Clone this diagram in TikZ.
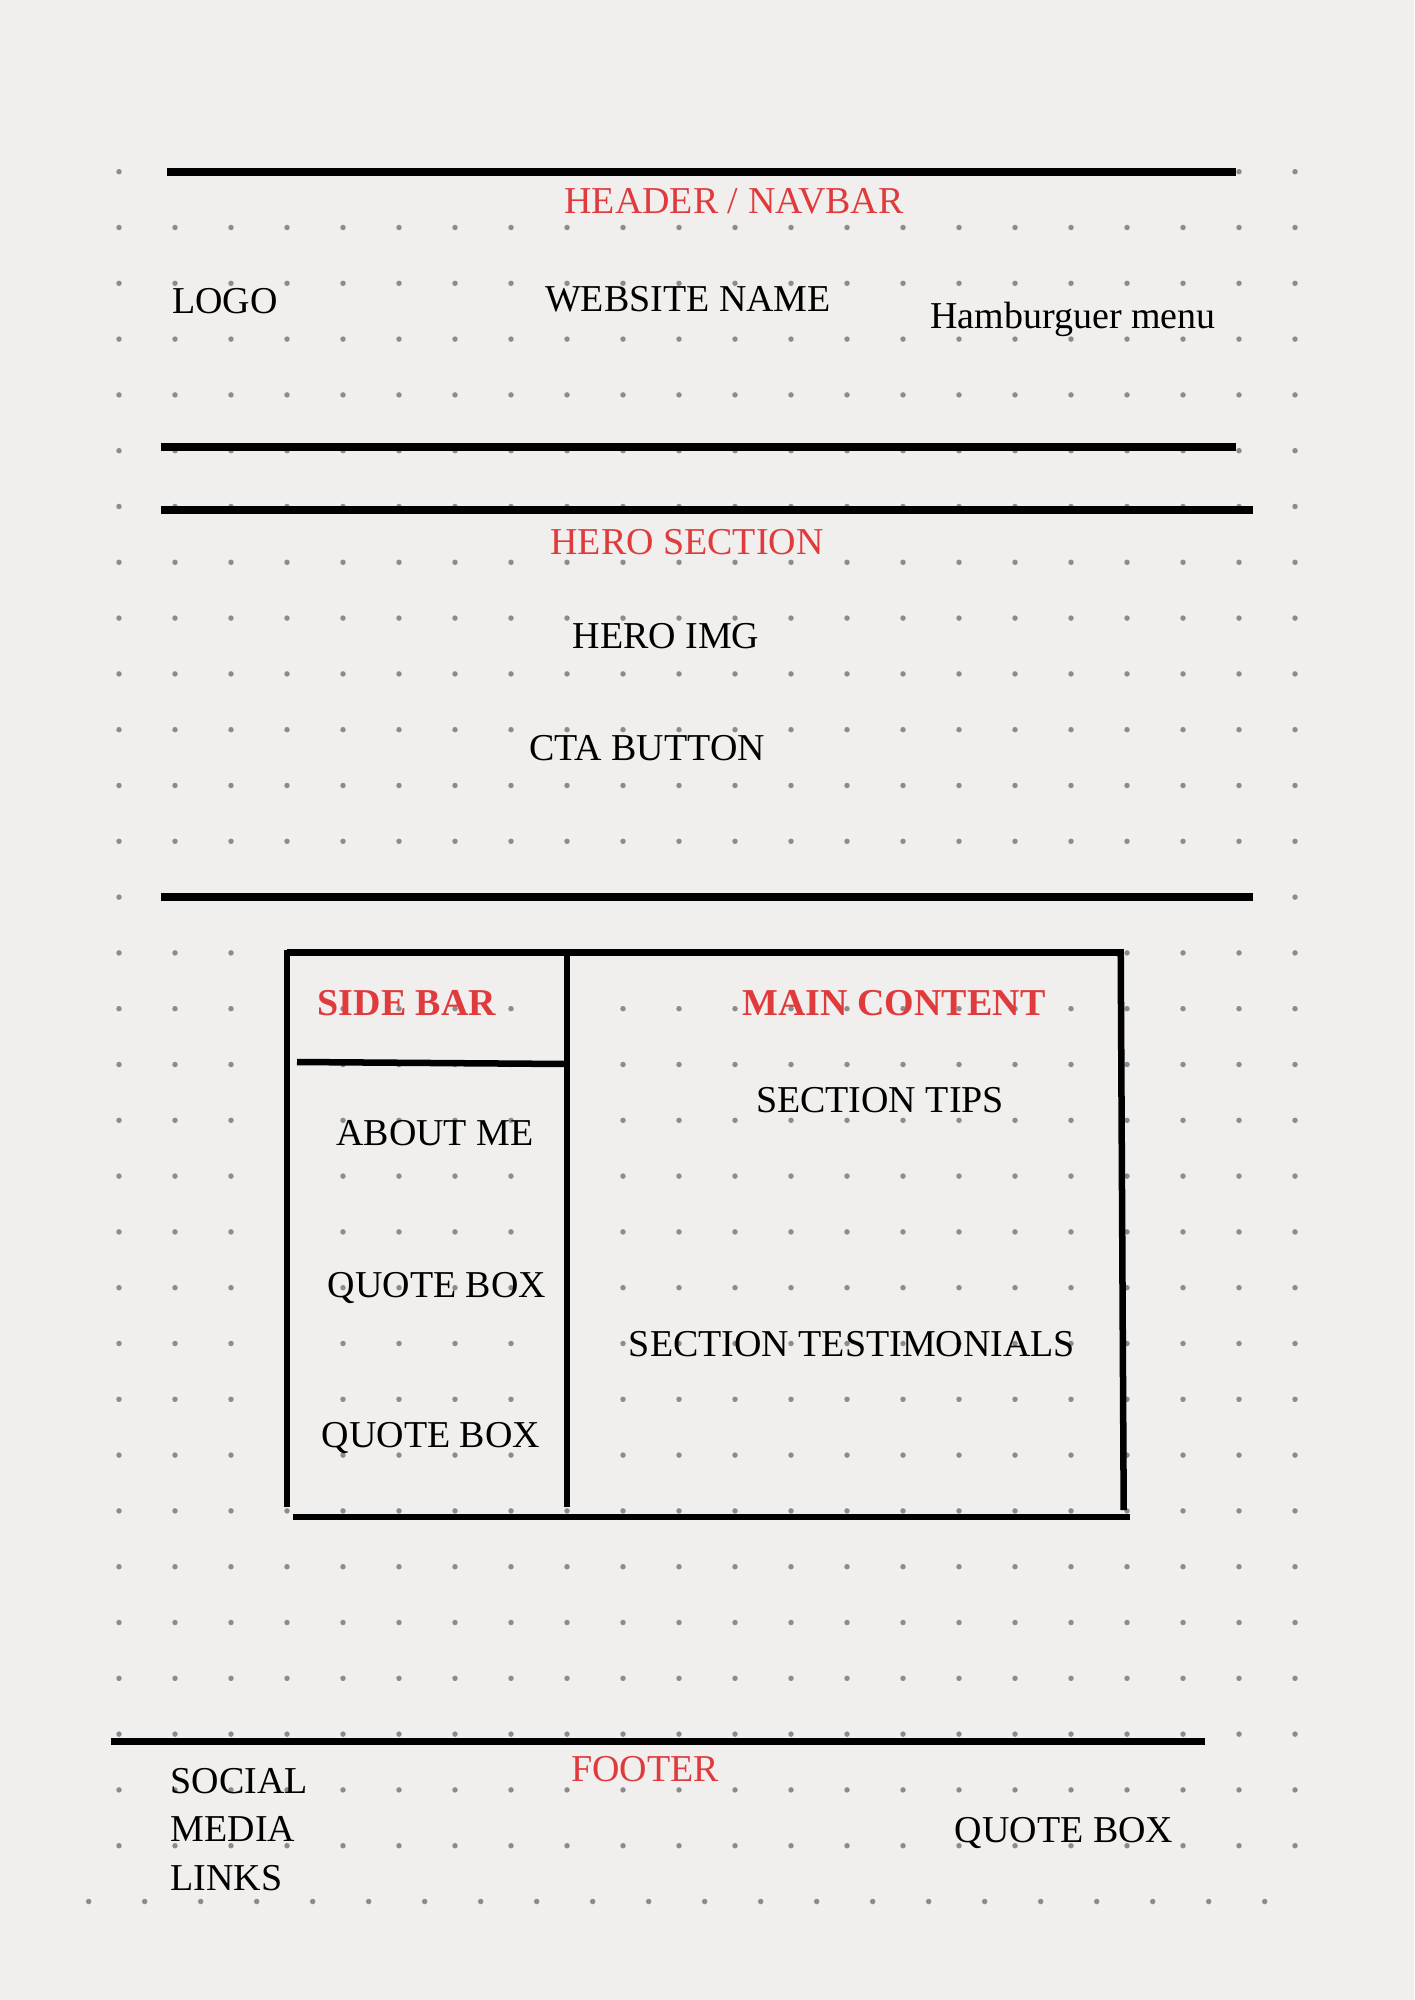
\documentclass[tikz,border=0pt]{standalone}
\usepackage{fontspec}
\setmainfont{Liberation Serif}
\usetikzlibrary{positioning}
\definecolor{paper}{RGB}{240,239,237}
\definecolor{dotgray}{RGB}{140,140,140}
\definecolor{navred}{RGB}{224,58,60}

\begin{document}
\begin{tikzpicture}[x=0.01cm, y=-0.01cm, every node/.style={font=\fontsize{10.8}{13.7}\selectfont, inner sep=0pt, anchor=base}, lbl/.style={text=black}, sectitle/.style={text=navred}, boldtitle/.style={text=navred, font=\fontsize{10.8}{13.7}\selectfont\bfseries}, secline/.style={line width=2pt}, boxline/.style={line width=1.85pt}]
\useasboundingbox (0,0) rectangle (1414,2000);
\fill[paper] (0,0) rectangle (1414,2000);
% dotted paper
\foreach \r in {0,...,30} \foreach \c in {0,...,21} \fill[dotgray] (119+56*\c, 171.7+55.8*\r) circle[radius=0.78pt];
\foreach \c in {0,...,21} \fill[dotgray] (88.7+56*\c, 1901.5) circle[radius=0.78pt];
% section rules
\draw[secline] (167,172) -- (1236,172); \draw[secline] (161,447) -- (1236,447);
\draw[secline] (161,510) -- (1253,510); \draw[secline] (161,897) -- (1253,897);
\draw[secline] (111,1741) -- (1205,1741);
% content box
\draw[boxline] (287,952.7) -- (1124,952.7); \draw[boxline] (287,950) -- (287,1507); \draw[boxline] (567,952.7) -- (567,1507);
\draw[boxline] (1120.7,950) -- (1123.7,1510); \draw[boxline] (293,1517) -- (1130,1517); \draw[boxline] (297,1062) -- (567,1064);
% labels
\node[sectitle] (navtitle) at (734,214) {HEADER / NAVBAR};
\node[lbl] (logo) at (225,314) {LOGO};
\node[lbl] (sitename) at (688,311) {WEBSITE NAME};
\node[lbl] (burger) at (1073,328) {Hamburguer menu};
\node[sectitle] (herotitle) at (687,554) {HERO SECTION};
\node[lbl] (heroimg) at (666,648) {HERO IMG};
\node[lbl] (cta) at (647,760) {CTA BUTTON};
\node[boldtitle] (sidetitle) at (407,1015) {SIDE BAR};
\node[boldtitle] (maintitle) at (894,1015) {MAIN CONTENT};
\node[lbl] (tips) at (880,1112) {SECTION TIPS};
\node[lbl] (about) at (435,1145) {ABOUT ME};
\node[lbl] (quoteA) at (437,1297) {QUOTE BOX};
\node[lbl] (testimonials) at (852,1356) {SECTION TESTIMONIALS};
\node[lbl] (quoteB) at (431,1447) {QUOTE BOX};
\node[sectitle] (foottitle) at (645,1781) {FOOTER};
\node[lbl, align=left, anchor=base west] (social) at (170,1890) {SOCIAL\\MEDIA\\LINKS};
\node[lbl] (quoteC) at (1064,1842) {QUOTE BOX};
\end{tikzpicture}
\end{document}
